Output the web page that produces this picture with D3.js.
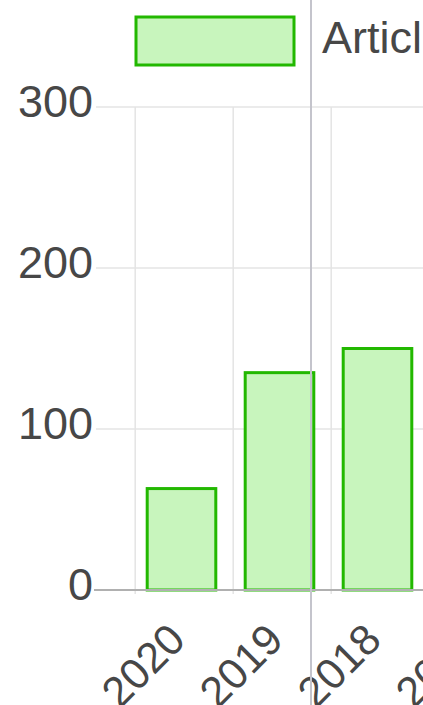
<!DOCTYPE html>
<html>
<head>
<meta charset="utf-8">
<script src="https://cdn.jsdelivr.net/npm/d3@7"></script>
<style>
  body { margin: 0; background: #fff; }
  svg { display: block; font-family: "Liberation Sans", Arial, sans-serif; }
</style>
</head>
<body>
<div class="container"></div>
<script>
// data (years descending, last one only partly visible)
const categories = ["2020", "2019", "2018", "2017"];
const articles = [63, 135, 150];
const yTicks = [0, 100, 200, 300];
const seriesName = "Articles";

const WIDTH = 423, HEIGHT = 705;
const MARGIN = { top: 107, left: 96, bottom: 115 };
const STEP = 98;
const TEXT = "#474747";
const GRID = "#e4e4e4";
const GREEN = "#22b800";
const FILL = "#c8f5bd";

const svg = d3.select(".container")
  .append("svg")
  .attr("width", WIDTH)
  .attr("height", HEIGHT)
  .attr("viewBox", [0, 0, WIDTH, HEIGHT]);

const x = d3.scaleBand()
  .domain(categories)
  .range([132.5, 132.5 + STEP * categories.length])
  .paddingInner(0.3)
  .paddingOuter(0.15);

const y = d3.scaleLinear()
  .domain([0, 300])
  .range([HEIGHT - MARGIN.bottom, MARGIN.top]);

// horizontal grid
svg.append("g")
  .selectAll("line")
  .data(yTicks.filter(d => d > 0))
  .join("line")
  .attr("x1", MARGIN.left)
  .attr("x2", WIDTH)
  .attr("y1", d => y(d))
  .attr("y2", d => y(d))
  .attr("stroke", GRID)
  .attr("stroke-width", 1.5);

// vertical grid
svg.append("g")
  .selectAll("line")
  .data(categories)
  .join("line")
  .attr("x1", d => x(d) - 12)
  .attr("x2", d => x(d) - 12)
  .attr("y1", y(300))
  .attr("y2", y(0) + 4)
  .attr("stroke", GRID)
  .attr("stroke-width", 1.5);

// bars
svg.append("g")
  .selectAll("rect")
  .data(articles)
  .join("rect")
  .attr("x", (d, i) => x(categories[i]))
  .attr("y", d => y(d))
  .attr("width", x.bandwidth())
  .attr("height", d => y(0) - y(d))
  .attr("fill", FILL)
  .attr("stroke", GREEN)
  .attr("stroke-width", 3);

// zero axis
svg.append("line")
  .attr("x1", MARGIN.left - 2)
  .attr("x2", WIDTH)
  .attr("y1", y(0))
  .attr("y2", y(0))
  .attr("stroke", "#b0b0b0")
  .attr("stroke-width", 2);

// y tick labels
svg.append("g")
  .selectAll("text")
  .data(yTicks)
  .join("text")
  .attr("x", 93)
  .attr("y", d => y(d) + 10)
  .attr("text-anchor", "end")
  .attr("font-size", 45)
  .attr("fill", TEXT)
  .text(d => d);

// x tick labels, rotated
svg.append("g")
  .selectAll("text")
  .data(categories)
  .join("text")
  .attr("transform", d => `translate(${x(d) + x.bandwidth() / 2 + 6}, ${y(0) + 52}) rotate(-45)`)
  .attr("text-anchor", "end")
  .attr("font-size", 43)
  .attr("fill", TEXT)
  .text(d => d);

// full-height separator line seen in the picture
svg.append("line")
  .attr("x1", 311)
  .attr("x2", 311)
  .attr("y1", 0)
  .attr("y2", HEIGHT)
  .attr("stroke", "#c4c4cc")
  .attr("stroke-width", 2);

// legend
const legend = svg.append("g");
legend.append("rect")
  .attr("x", 136)
  .attr("y", 17)
  .attr("width", 158)
  .attr("height", 48)
  .attr("fill", FILL)
  .attr("stroke", GREEN)
  .attr("stroke-width", 3);
legend.append("text")
  .attr("x", 322)
  .attr("y", 53)
  .attr("font-size", 45)
  .attr("fill", TEXT)
  .text(seriesName);
</script>
</body>
</html>
